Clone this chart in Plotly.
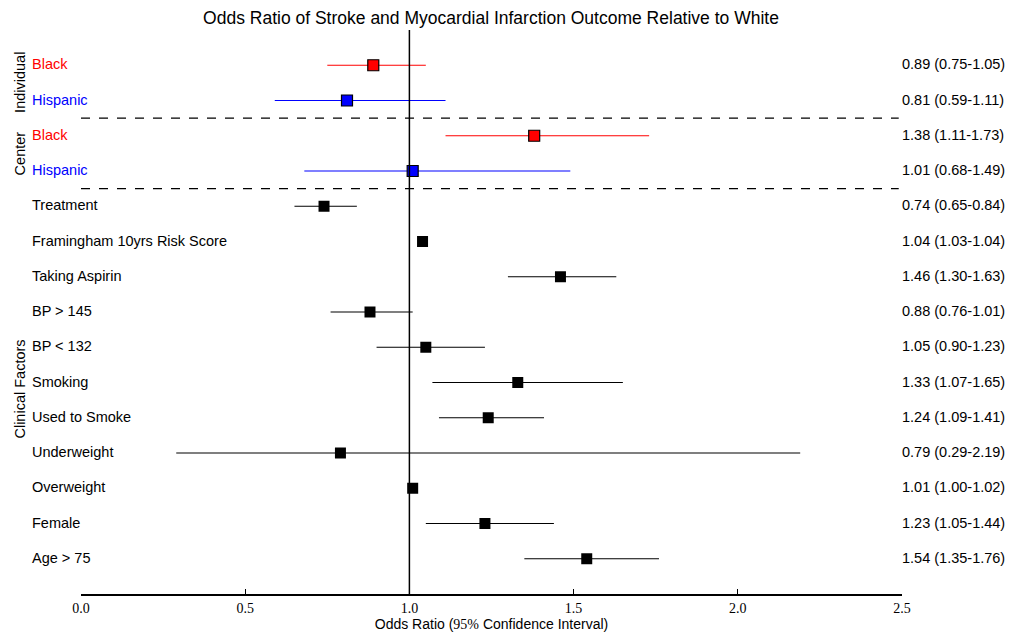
import plotly.graph_objects as go

labels = ["Black", "Hispanic", "Black", "Hispanic", "Treatment",
          "Framingham 10yrs Risk Score", "Taking Aspirin", "BP &gt; 145",
          "BP &lt; 132", "Smoking", "Used to Smoke", "Underweight",
          "Overweight", "Female", "Age &gt; 75"]
odds = [0.89, 0.81, 1.38, 1.01, 0.74, 1.04, 1.46, 0.88, 1.05, 1.33, 1.24,
        0.79, 1.01, 1.23, 1.54]
lower = [0.75, 0.59, 1.11, 0.68, 0.65, 1.03, 1.30, 0.76, 0.90, 1.07, 1.09,
         0.29, 1.00, 1.05, 1.35]
upper = [1.05, 1.11, 1.73, 1.49, 0.84, 1.04, 1.63, 1.01, 1.23, 1.65, 1.41,
         2.19, 1.02, 1.44, 1.76]
colors = ["red", "blue", "red", "blue"] + ["black"] * 11
groups = ["Individual", "Center", "Clinical Factors"]
group_pos = [14.5, 12.5, 5.8]
separators = [13.5, 11.5]
xticks = [0.0, 0.5, 1.0, 1.5, 2.0, 2.5]

n = len(labels)
ypos = [n - i for i in range(n)]

# page body has an 8px default margin; compensate in figure margins
PL, PT = 8, 8
W, H = 1023, 635
plot_left, plot_right, plot_top, plot_bottom = 81, 902, 30, 594
ml = plot_left - PL
mr = W - (plot_right - PL)
mt = plot_top - PT
mb = H - (plot_bottom - PT)
pw = plot_right - plot_left

fig = go.Figure()
for col in ["red", "blue", "black"]:
    idx = [i for i in range(n) if colors[i] == col]
    for i in idx:
        fig.add_trace(go.Scatter(x=[lower[i], upper[i]], y=[ypos[i], ypos[i]],
                                 mode="lines", line=dict(color=col, width=1.2),
                                 showlegend=False, hoverinfo="skip"))
for col in ["red", "blue", "black"]:
    idx = [i for i in range(n) if colors[i] == col]
    fig.add_trace(go.Scatter(
        x=[odds[i] for i in idx], y=[ypos[i] for i in idx], mode="markers",
        marker=dict(symbol="square", size=11, color=col,
                    line=dict(color="black", width=1.2 if col != "black" else 0)),
        showlegend=False))

fig.add_shape(type="line", x0=1, x1=1, y0=0, y1=1, yref="paper",
              line=dict(color="black", width=1.5))
for s in separators:
    fig.add_shape(type="line", x0=0.0, x1=2.49, y0=s, y1=s,
                  line=dict(color="black", width=1.2, dash="dash"))

ann = []
for i in range(n):
    ann.append(dict(x=(32 - plot_left) / pw, xref="paper", y=ypos[i], yref="y",
                    text=labels[i], showarrow=False, xanchor="left", xshift=-2,
                    yshift=1,
                    font=dict(size=14.5, color=colors[i])))
    ann.append(dict(x=1.0, xref="paper", y=ypos[i], yref="y",
                    text=f"{odds[i]:.2f} ({lower[i]:.2f}-{upper[i]:.2f})",
                    showarrow=False, xanchor="left", xshift=-2, yshift=1,
                    font=dict(size=14.5, color="black")))
for g, p in zip(groups, group_pos):
    ann.append(dict(x=(20 - plot_left) / pw, xref="paper", y=p, yref="y", text=g,
                    textangle=-90, showarrow=False, xanchor="center",
                    font=dict(size=14.5, color="black")))

fig.update_layout(
    width=W, height=H,
    margin=dict(l=ml, r=mr, t=mt, b=mb),
    paper_bgcolor="white", plot_bgcolor="white",
    font=dict(family="Liberation Sans, Arial, sans-serif", color="black"),
    title=dict(text="Odds Ratio of Stroke and Myocardial Infarction Outcome Relative to White",
               x=(491 - PL) / W, xanchor="center", xref="container",
               y=1 - (18 - PT) / H, yanchor="middle", yref="container",
               font=dict(size=17.5)),
    annotations=ann,
    xaxis=dict(range=[0, 2.5], tickvals=xticks,
               ticktext=[f"{t:.1f}" for t in xticks],
               showgrid=False, zeroline=False, showline=True,
               linecolor="black", linewidth=1.5, ticks="inside", ticklen=5,
               tickcolor="black",
               tickfont=dict(family="Liberation Serif, DejaVu Serif, serif", size=14),
               title=dict(text='Odds Ratio (<span style="font-family:Liberation Serif">95%</span> Confidence Interval)',
                          font=dict(size=14), standoff=4)),
    yaxis=dict(range=[0, 16], visible=False, showgrid=False, zeroline=False),
)

fig.write_html("out.html")
